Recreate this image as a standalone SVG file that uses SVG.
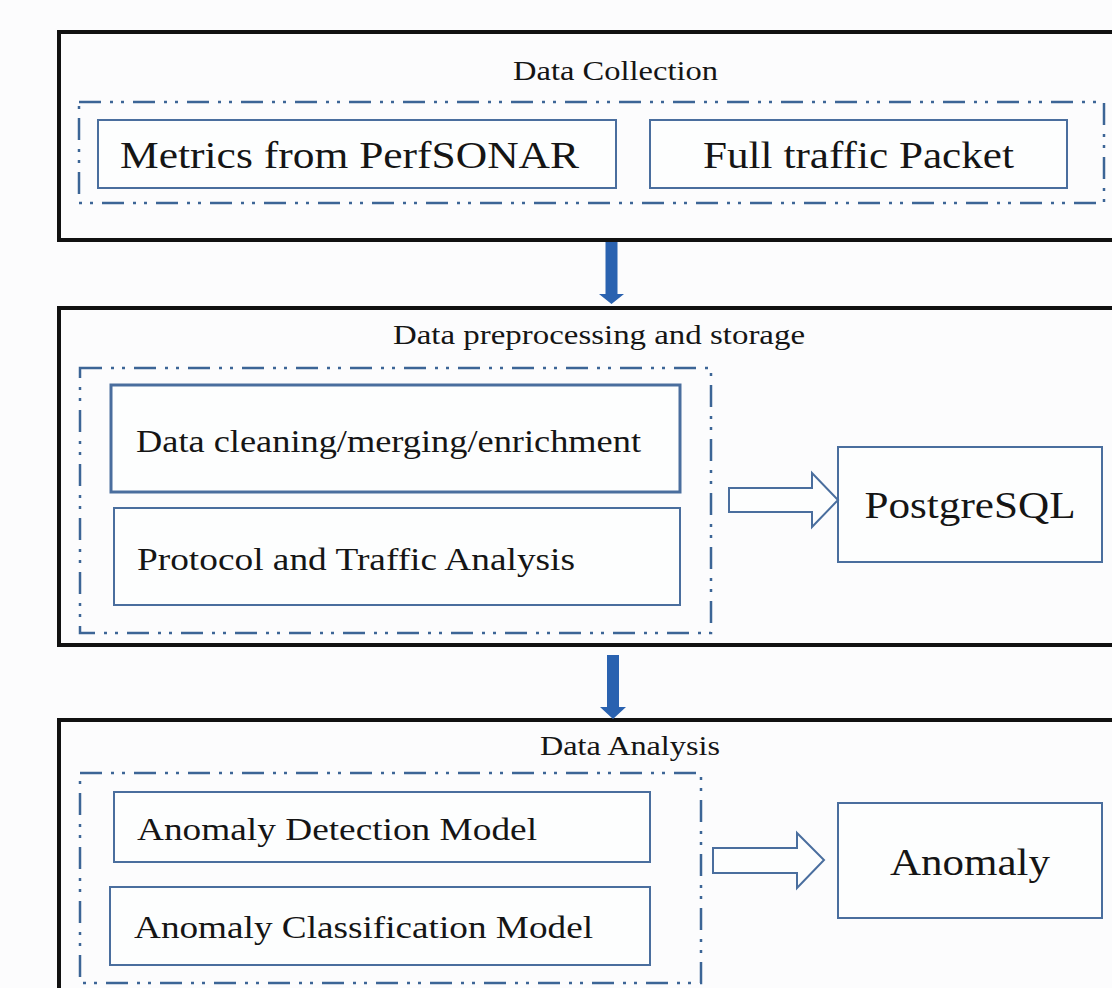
<svg xmlns="http://www.w3.org/2000/svg" width="1112" height="988" viewBox="0 0 1112 988">
<style>
.stage{fill:none;stroke:#111;stroke-width:4}
.group{fill:none;stroke:#3c6596;stroke-width:2.5;stroke-dasharray:22 9 3 8 3 9}
.box{fill:#fdfefe;stroke:#4a6e9e;stroke-width:2}
.thick{stroke-width:3}
.t{font-family:"Liberation Serif","Times New Roman",serif;fill:#151515}
.title{font-size:28px}
.lbl{font-size:32px}
.big{font-size:38px}
.solid{fill:#2a62b0}
.hollow{fill:#fdfefe;stroke:#4a6e9e;stroke-width:2;stroke-linejoin:miter}
</style>
<rect x="0" y="0" width="1112" height="988" fill="#fcfcfd"/>

<g id="stage-collection">
<rect class="stage" x="59" y="32" width="1080" height="208"/>
<text class="t title" x="615.5" y="80" text-anchor="middle" textLength="205" lengthAdjust="spacingAndGlyphs">Data Collection</text>
<rect class="group" x="79" y="102" width="1025" height="101"/>
</g>
<g id="node-metrics">
<rect class="box" x="98" y="120" width="518" height="68"/>
<text class="t big" x="120" y="168" textLength="459" lengthAdjust="spacingAndGlyphs">Metrics from PerfSONAR</text>
</g>
<g id="node-fulltraffic">
<rect class="box" x="650" y="120" width="417" height="68"/>
<text class="t big" x="858.5" y="168" text-anchor="middle" textLength="311" lengthAdjust="spacingAndGlyphs">Full traffic Packet</text>
</g>

<g id="stage-preprocessing">
<rect class="stage" x="59" y="308" width="1080" height="337"/>
<text class="t title" x="599" y="344" text-anchor="middle" textLength="412" lengthAdjust="spacingAndGlyphs">Data preprocessing and storage</text>
<rect class="group" x="80" y="368" width="631" height="265"/>
</g>
<g id="node-cleaning">
<rect class="box thick" x="111" y="385" width="569" height="107"/>
<text class="t lbl" x="136" y="452" textLength="505" lengthAdjust="spacingAndGlyphs">Data cleaning/merging/enrichment</text>
</g>
<g id="node-protocol">
<rect class="box" x="114" y="508" width="566" height="97"/>
<text class="t lbl" x="137" y="570" textLength="438" lengthAdjust="spacingAndGlyphs">Protocol and Traffic Analysis</text>
</g>
<g id="node-postgresql">
<rect class="box" x="838" y="447" width="264" height="115"/>
<text class="t big" x="970" y="518" text-anchor="middle" textLength="211" lengthAdjust="spacingAndGlyphs">PostgreSQL</text>
</g>

<g id="stage-analysis">
<rect class="stage" x="59" y="720" width="1080" height="290"/>
<text class="t title" x="630" y="755" text-anchor="middle" textLength="180" lengthAdjust="spacingAndGlyphs">Data Analysis</text>
<rect class="group" x="80" y="773" width="621" height="210"/>
</g>
<g id="node-detection">
<rect class="box" x="114" y="792" width="536" height="70"/>
<text class="t lbl" x="137" y="840" textLength="400" lengthAdjust="spacingAndGlyphs">Anomaly Detection Model</text>
</g>
<g id="node-classification">
<rect class="box" x="110" y="887" width="540" height="78"/>
<text class="t lbl" x="134" y="938" textLength="459" lengthAdjust="spacingAndGlyphs">Anomaly Classification Model</text>
</g>
<g id="node-anomaly">
<rect class="box" x="838" y="803" width="264" height="115"/>
<text class="t big" x="970" y="875" text-anchor="middle" textLength="160" lengthAdjust="spacingAndGlyphs">Anomaly</text>
</g>

<g id="connectors">
<polygon class="solid" points="605.5,242 617.5,242 617.5,294 624,294 611.5,304 599,294 605.5,294"/>
<polygon class="solid" points="607,655 619,655 619,707 626,707 613,719 600,707 607,707"/>
<polygon class="hollow" points="729,488 812,488 812,473 838,500 812,527 812,512 729,512"/>
<polygon class="hollow" points="713,848 797,848 797,833 824,860 797,888 797,873 713,873"/>
</g>
</svg>
